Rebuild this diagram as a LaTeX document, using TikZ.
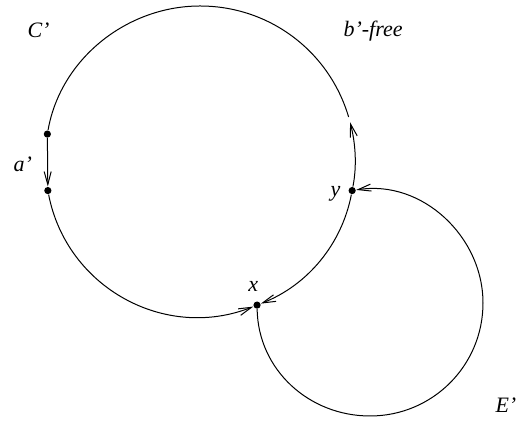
\documentclass[tikz,border=0pt]{standalone}
\usepackage{fontspec}
\setmainfont{Liberation Serif}
\usetikzlibrary{arrows.meta,calc}

\begin{document}
\begin{tikzpicture}[
  x=0.5pt, y=0.5pt,
  line width=0.5pt,
  font=\fontsize{11}{13}\selectfont\itshape,
  dot/.style={circle, fill, inner sep=0pt, minimum size=3.6pt},
  lbl/.style={inner sep=0pt, anchor=base west},
  arrow/.style={-{Straight Barb[length=6.5pt, width=3.5pt]}}
]
  \useasboundingbox (0,0) rectangle (521,422);
  % centres of the two loops
  \coordinate (cbig) at (200,261);
  \coordinate (csmall) at (370,119);
  \node[dot] (a1) at ($(cbig)+(170:155)$) {};
  \node[dot] (a2) at ($(cbig)+(191:155)$) {};
  \node[dot] (y) at ($(cbig)+(-11:155)$) {};
  \node[dot] (x) at ($(cbig)+(-68.4:155)$) {};
  \coordinate (btip) at ($(cbig)+(14.5:155)$);
  \coordinate (bend) at ($(cbig)+(16.5:155)$);
  \coordinate (btop) at ($(cbig)+(90:155)$);
  \coordinate (sbot) at ($(csmall)+(270:113)$);
  \coordinate (sright) at ($(csmall)+(0:113)$);
  % labels
  \node[lbl] (lc) at (27,384) {C’};
  \node[lbl] (lb) at (343,385) {b’-free};
  \node[lbl] (la) at (13,250) {a’};
  \node[lbl] (ly) at (330,225) {y};
  \node[lbl] (lx) at (248,130) {x};
  \node[lbl] (le) at (495,9) {E’};
  % C'
  \draw[arrow] (a1) -- (a2);
  \draw[arrow] (a2) to[out=281, in=201.6, looseness=1.04] (x);
  \draw[arrow] (y) to[out=259, in=21.6, looseness=0.91] (x);
  \draw[arrow] (y) to[out=79, in=284.5, looseness=0.86] (btip);
  \draw (bend) to[out=106.5, in=0, looseness=0.95] (btop)
    to[out=180, in=80, looseness=0.95] (a1);
  % E'
  \draw[arrow] (x) to[out=271, in=180] (sbot) to[out=0, in=270] (sright)
    to[out=90, in=9] (y);
\end{tikzpicture}
\end{document}
